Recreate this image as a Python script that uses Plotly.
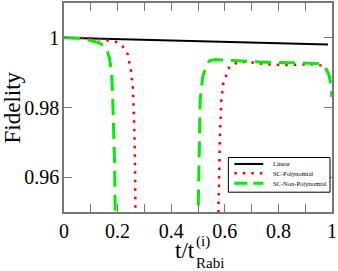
import plotly.graph_objects as go

# Linear
lin_x = [0.0, 0.2, 0.4, 0.6, 0.8, 0.985]
lin_y = [1.0, 0.9996, 0.9993, 0.9989, 0.9985, 0.9981]

# SC-Polynomial
poly_x = [0.0, 0.1, 0.133, 0.164, 0.195, 0.219, 0.238, 0.244, 0.25, 0.257, 0.26, 0.263, 0.265, 0.266, 0.267,
          None,
          0.575, 0.576, 0.579, 0.582, 0.587, 0.594, 0.603, 0.616, 0.634, 0.665, 0.703, 0.752, 0.814, 0.876,
          0.938, 0.969, 0.981, 0.985]
poly_y = [1.0, 0.9999, 0.9996, 0.9992, 0.9988, 0.9975, 0.9952, 0.9928, 0.9905, 0.9858, 0.9801, 0.9725, 0.9631, 0.9502, 0.945,
          None,
          0.945, 0.95, 0.963, 0.9725, 0.982, 0.9868, 0.9887, 0.9915, 0.9926, 0.9931, 0.9929, 0.9924, 0.9922, 0.9922,
          0.9924, 0.9919, 0.991, 0.9905]

# SC-Non-Polynomial
nonpoly_x = [0.0, 0.06, 0.1, 0.13, 0.15, 0.16, 0.17, 0.175, 0.178, 0.182, 0.186, 0.189, 0.191, 0.192,
             None,
             0.4995, 0.5006, 0.502, 0.504, 0.508, 0.517, 0.529, 0.542, 0.566, 0.628, 0.75, 0.876, 0.95, 0.975,
             0.988, 0.996, 1.0]
nonpoly_y = [1.0, 0.9999, 0.9992, 0.9986, 0.9977, 0.9965, 0.9942, 0.9915, 0.9895, 0.982, 0.9725, 0.963, 0.95, 0.945,
             None,
             0.945, 0.95, 0.963, 0.9725, 0.982, 0.9886, 0.9915, 0.9934, 0.9938, 0.9935, 0.993, 0.9928, 0.9926, 0.9914,
             0.9895, 0.9867, 0.983]

x_ticks = [0, 0.2, 0.4, 0.6, 0.8, 1]
x_ticktext = ["0", "0.2", "0.4", "0.6", "0.8", "1"]
y_ticks = [0.96, 0.98, 1.0]
y_ticktext = ["0.96", "0.98", "1"]
legend_names = ["Linear", "SC-Polynomial", "SC-Non-Polynomial"]

FONT = "Liberation Serif"
AXC = "#777777"

fig = go.Figure()
fig.add_trace(go.Scatter(x=lin_x, y=lin_y, mode="lines", name=legend_names[0],
                         line=dict(color="black", width=2)))
fig.add_trace(go.Scatter(x=poly_x, y=poly_y, mode="lines", name=legend_names[1],
                         line=dict(color="#ff0000", width=2.5, dash="2.5px,6px"), connectgaps=False))
fig.add_trace(go.Scatter(x=nonpoly_x, y=nonpoly_y, mode="lines", name=legend_names[2],
                         line=dict(color="#00ee00", width=3, dash="16px,8px"), connectgaps=False))

fig.update_layout(
    width=338, height=271,
    margin=dict(l=64, r=5, t=1, b=59),
    paper_bgcolor="white", plot_bgcolor="white",
    showlegend=False,
    font=dict(family=FONT, color="black"),
)
fig.update_xaxes(range=[0, 1], tickvals=x_ticks, ticktext=x_ticktext,
                 showgrid=False, zeroline=False, showline=True, linecolor=AXC, linewidth=1.5,
                 mirror="ticks", ticks="inside", ticklen=8, tickcolor=AXC, tickwidth=1.2,
                 tickfont=dict(size=20, family=FONT, color="black"),
                 minor=dict(tickvals=[0.1, 0.3, 0.5, 0.7, 0.9], ticks="inside", ticklen=8,
                            tickcolor=AXC, tickwidth=1.2))
fig.update_yaxes(range=[0.95, 1.01], tickvals=y_ticks, ticktext=y_ticktext,
                 showgrid=False, zeroline=False, showline=True, linecolor=AXC, linewidth=1.5,
                 mirror="ticks", ticks="inside", ticklen=8, tickcolor=AXC, tickwidth=1.2,
                 ticklabelstandoff=-1,
                 tickfont=dict(size=20, family=FONT, color="black"))

# axis titles
fig.add_annotation(text="Fidelity", xref="paper", yref="paper", x=0, y=0.5, xshift=-52,
                   xanchor="center", yanchor="middle", textangle=-90, showarrow=False,
                   font=dict(size=23, family=FONT, color="black"))
fig.add_annotation(text="t/t", xref="paper", yref="paper", x=0, y=0, xshift=173 - 64, yshift=-(250 - 212),
                   xanchor="left", yanchor="middle", showarrow=False,
                   font=dict(size=23, family=FONT, color="black"))
fig.add_annotation(text="(i)", xref="paper", yref="paper", x=0, y=0, xshift=194 - 64, yshift=-(241 - 212),
                   xanchor="left", yanchor="middle", showarrow=False,
                   font=dict(size=15, family=FONT, color="black"))
fig.add_annotation(text="Rabi", xref="paper", yref="paper", x=0, y=0, xshift=194 - 64, yshift=-(263 - 212),
                   xanchor="left", yanchor="middle", showarrow=False,
                   font=dict(size=15, family=FONT, color="black"))

# manual legend box
pw, ph = 269.0, 211.0
def px2x(p):
    return (p - 64) / pw
def py2y(p):
    return (212 - p) / ph

fig.add_shape(type="rect", xref="paper", yref="paper",
              x0=px2x(229), x1=px2x(331), y0=py2y(192), y1=py2y(157),
              line=dict(color="black", width=1), fillcolor="white", layer="above")
styles = [dict(color="black", width=2),
          dict(color="#ff0000", width=2.5, dash="2.5px,6px"),
          dict(color="#00ee00", width=3, dash="13px,6px")]
rows = [163.5, 173, 183]
for name, st, ry in zip(legend_names, styles, rows):
    fig.add_shape(type="line", xref="paper", yref="paper",
                  x0=px2x(235), x1=px2x(264), y0=py2y(ry), y1=py2y(ry), line=st, layer="above")
    fig.add_annotation(text=name, xref="paper", yref="paper", x=px2x(272), y=py2y(ry),
                       xanchor="left", yanchor="middle", showarrow=False,
                       font=dict(size=6.5, family=FONT, color="black"))

fig.write_html("out.html", config={"displayModeBar": False},
               post_script="document.body.style.margin='0';document.body.style.overflow='hidden';")
